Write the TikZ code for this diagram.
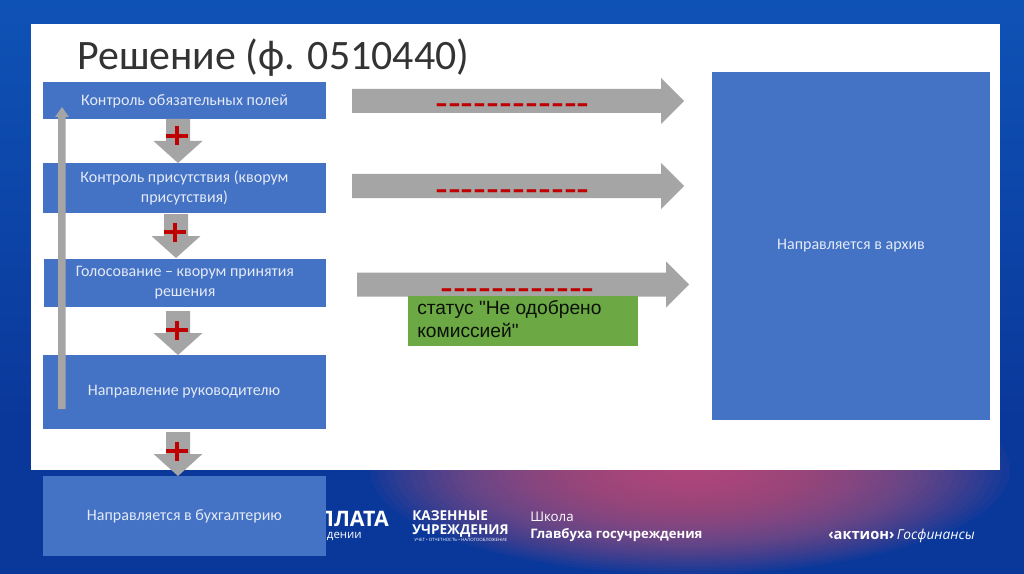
\documentclass[tikz,border=0pt]{standalone}
\usepackage{fontspec}
\setmainfont{Carlito}
\newfontfamily\arialf{Liberation Sans}
\newfontfamily\footf{Open Sans}
\definecolor{bgblue}{HTML}{0A389A}
\definecolor{bgtop}{HTML}{0F52B6}
\definecolor{boxblue}{HTML}{4472C4}
\definecolor{boxtext}{HTML}{E4EAF6}
\definecolor{arrowgray}{HTML}{A5A5A5}
\definecolor{plusred}{HTML}{C00000}
\definecolor{okgreen}{HTML}{6CA945}
\definecolor{glow}{HTML}{D0587A}
\tikzset{
  x=0.75pt,y=-0.75pt,
  blockbox/.style={fill=boxblue,draw=none,inner sep=0pt,text=boxtext,align=center,font=\fontsize{12pt}{15pt}\selectfont},
  plusbar/.style={draw=plusred,line width=2.4pt},
  dashtext/.style={text=plusred,inner sep=0pt,font=\arialf\fontsize{29pt}{30pt}\selectfont},
  foot/.style={text=white,inner sep=0pt,anchor=base west,font=\footf\bfseries\fontsize{10pt}{12pt}\selectfont},
}
\newcommand{\blockdown}[2]{% x center, y top
  \fill[arrowgray] (#1-12,#2) -- (#1+12,#2) -- (#1+12,#2+22) -- (#1+24.5,#2+22) -- (#1,#2+44) -- (#1-24.5,#2+22) -- (#1-12,#2+22) -- cycle;
}
\newcommand{\blockright}[3]{% x start, x end, y center
  \fill[arrowgray] (#1,#3-12) -- (#2-23,#3-12) -- (#2-23,#3-23) -- (#2,#3) -- (#2-23,#3+23) -- (#2-23,#3+12) -- (#1,#3+12) -- cycle;
}
\newcommand{\plusmark}[2]{\draw[plusbar] (#1-11,#2) -- (#1+11,#2) (#1,#2-9.5) -- (#1,#2+9.5);}
\begin{document}
\begin{tikzpicture}
\useasboundingbox (0,0) rectangle (1024,574);
% background
\fill[bgblue] (0,0) rectangle (1024,574);
\shade[top color=bgtop,bottom color=bgblue] (0,0) rectangle (1024,420);
\foreach \k in {1,...,40}{
  \fill[glow,opacity=0.05] (690,470) ellipse [x radius={8*\k}, y radius={2.6*\k}];
}
% white panel
\node[fill=white,draw=none,inner sep=0pt,minimum width=969*0.75pt,minimum height=446*0.75pt,anchor=north west] (panel) at (31,24) {};
% title
\node[inner sep=0pt,anchor=base west,text=black!80,font=\fontsize{31.4pt}{32pt}\selectfont] (title) at (77,70) {Решение (ф. 0510440)};
% footer
\node[foot,anchor=base east,font=\footf\bfseries\fontsize{16pt}{18pt}\selectfont] (plata) at (389,526) {ПЛАТА};
\node[foot,anchor=base east,font=\footf\fontsize{8.6pt}{10pt}\selectfont] (dn) at (362,538) {дении};
\node[foot,font=\footf\bfseries\fontsize{10.2pt}{11pt}\selectfont] (kaz1) at (412,520) {КАЗЕННЫЕ};
\node[foot,font=\footf\bfseries\fontsize{10.2pt}{11pt}\selectfont] (kaz2) at (412,534) {УЧРЕЖДЕНИЯ};
\node[foot,font=\footf\fontsize{3.3pt}{4pt}\selectfont] (kaz3) at (414,541) {УЧЕТ • ОТЧЕТНОСТЬ • НАЛОГООБЛОЖЕНИЕ};
\node[foot,text=white!75,font=\footf\fontsize{10pt}{11pt}\selectfont] (sh1) at (530,521) {Школа};
\node[foot,font=\footf\bfseries\fontsize{9.8pt}{11pt}\selectfont] (sh2) at (530,538) {Главбуха госучреждения};
\node[foot,font=\footf\bfseries\fontsize{11pt}{12pt}\selectfont] (ak) at (828,539) {‹актион›\,{\footf\itshape\mdseries\fontsize{10.3pt}{12pt}\selectfont Госфинансы}};
% boxes
\node[blockbox,minimum width=283*0.75pt,minimum height=37*0.75pt] (b1) at (184.5,101) {Контроль обязательных полей};
\node[blockbox,minimum width=283*0.75pt,minimum height=50*0.75pt] (b2) at (184.5,188) {Контроль присутствия (кворум\\присутствия)};
\node[blockbox,minimum width=282*0.75pt,minimum height=48*0.75pt] (b3) at (185,283) {Голосование – кворум принятия\\решения};
\node[blockbox,minimum width=283*0.75pt,minimum height=74*0.75pt] (b4) at (184,392) {Направление руководителю};
\node[blockbox,minimum width=283*0.75pt,minimum height=80*0.75pt] (b5) at (184.5,516) {Направляется в бухгалтерию};
\node[blockbox,minimum width=278*0.75pt,minimum height=348*0.75pt] (arch) at (851,246) {Направляется в архив};
% up arrow
\fill[arrowgray] (58,409) -- (58,117) -- (55,117) -- (62,107) -- (69,117) -- (65.5,117) -- (65.5,409) -- cycle;
% down arrows
\blockdown{178}{119}
\blockdown{176}{214}
\blockdown{178}{311}
\blockdown{178}{432}
\plusmark{177}{136}
\plusmark{175}{232}
\plusmark{177}{330}
\plusmark{177}{451}
% right arrows
\blockright{352}{684}{101}
\blockright{352}{684}{186}
\blockright{357}{689}{284.5}
% dashes
\node[dashtext] (d1) at (512.5,110) {-{}-{}-{}-{}-{}-{}-{}-{}-{}-{}-{}-};
\node[dashtext] (d2) at (512.5,196) {-{}-{}-{}-{}-{}-{}-{}-{}-{}-{}-{}-};
\node[dashtext] (d3) at (517.5,295) {-{}-{}-{}-{}-{}-{}-{}-{}-{}-{}-{}-};
% green box
\fill[okgreen] (408,296) rectangle (637.5,346);
\node[inner sep=0pt,anchor=base west,text=black!90!okgreen,font=\arialf\fontsize{14.4pt}{17pt}\selectfont] (st1) at (417,314) {статус "Не одобрено};
\node[inner sep=0pt,anchor=base west,text=black!90!okgreen,font=\arialf\fontsize{14.4pt}{17pt}\selectfont] (st2) at (417,337) {комиссией"};
\end{tikzpicture}
\end{document}
